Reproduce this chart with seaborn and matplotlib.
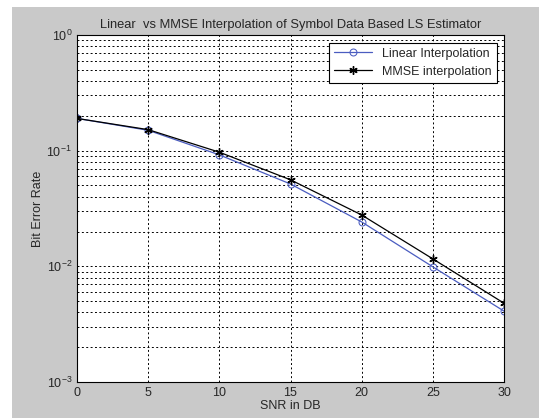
import numpy as np
import pandas as pd
import seaborn as sns
import matplotlib.pyplot as plt
from matplotlib.patches import Rectangle

snr = [0, 5, 10, 15, 20, 25, 30]
ber_linear = [0.19, 0.150, 0.092, 0.0515, 0.0242, 0.0099, 0.0041]
ber_mmse = [0.19, 0.152, 0.097, 0.056, 0.0278, 0.0116, 0.0048]

df = pd.DataFrame({'snr': snr, 'linear': ber_linear, 'mmse': ber_mmse})

sns.set_style('white')
plt.rcParams['font.family'] = ['Liberation Sans', 'DejaVu Sans']

fig = plt.figure(figsize=(5.39, 4.18), dpi=100, facecolor='#c9c9c9')
fig.patches.append(Rectangle((0, 0), 12/539, 1, transform=fig.transFigure,
                             facecolor='white', edgecolor='none', zorder=-1))
fig.patches.append(Rectangle((0, 1 - 7/418), 1, 7/418, transform=fig.transFigure,
                             facecolor='white', edgecolor='none', zorder=-1))
ax = fig.add_axes([77/539, 1 - 382/418, 427/539, 347/418])
ax.set_facecolor('white')

sns.lineplot(data=df, x='snr', y='linear', ax=ax, color='#4a5cc0', lw=0.9,
             marker='o', markersize=5, markerfacecolor='none',
             markeredgecolor='#4a5cc0', label='Linear Interpolation')
sns.lineplot(data=df, x='snr', y='mmse', ax=ax, color='black', lw=0.9,
             marker=(6, 2, 0), markersize=6, markeredgecolor='black',
             markeredgewidth=1.0, label='MMSE interpolation')

ax.set_yscale('log')
ax.set_ylim(1e-3, 1)
ax.set_xlim(0, 30)
ax.set_xticks([0, 5, 10, 15, 20, 25, 30])
ax.grid(True, which='major', color='black', ls=(0, (2, 2.5)), lw=0.7)
ax.grid(True, which='minor', axis='y', color='black', ls=(0, (2, 2.5)), lw=0.7)
ax.tick_params(which='both', direction='in', labelsize=9, length=3)
ax.tick_params(which='minor', length=2)
for s in ax.spines.values():
    s.set_color('black')
    s.set_linewidth(0.8)

ax.set_title('Linear  vs MMSE Interpolation of Symbol Data Based LS Estimator', fontsize=9.3, pad=5)
ax.set_xlabel('SNR in DB', fontsize=9, labelpad=1)
ax.set_ylabel('Bit Error Rate', fontsize=9, labelpad=2)

leg = ax.legend(loc='upper right', fontsize=9, frameon=True, fancybox=False,
                edgecolor='black', framealpha=1, handlelength=3,
                borderaxespad=0.6)
leg.get_frame().set_linewidth(0.8)

fig.savefig('out.png', dpi=100, facecolor=fig.get_facecolor())
